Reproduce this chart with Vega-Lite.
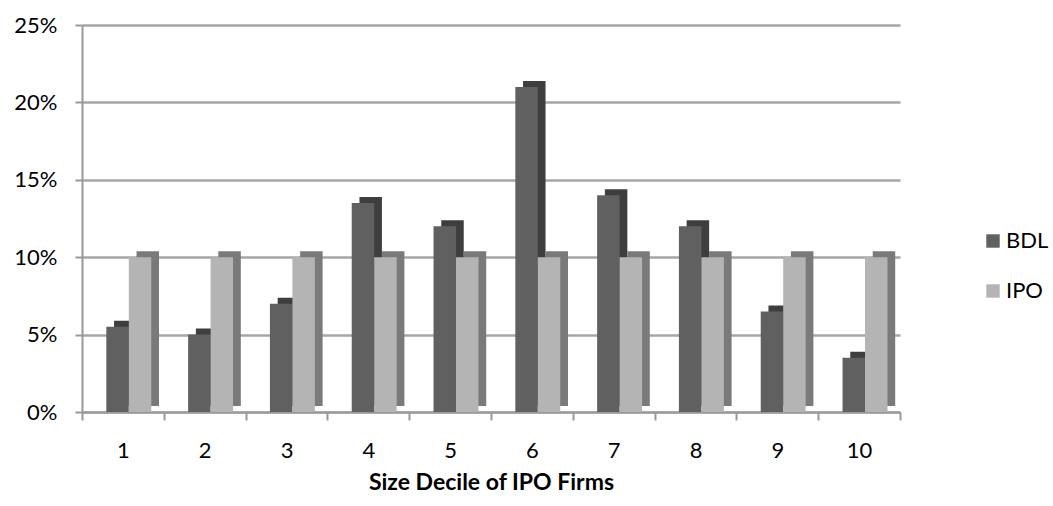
{
  "$schema": "https://vega.github.io/schema/vega-lite/v6.json",
  "width": 818,
  "height": 387,
  "autosize": {"type": "none"},
  "padding": {"left": 82, "top": 25, "right": 153, "bottom": 94},
  "background": "white",
  "config": {
    "view": {"stroke": null},
    "font": "Lato",
    "axis": {"labelFont": "Lato", "titleFont": "Lato", "labelColor": "#000", "titleColor": "#000"},
    "legend": {
      "orient": "none",
      "legendX": 900,
      "legendY": 205,
      "rowPadding": 28,
      "symbolType": "square",
      "symbolSize": 180,
      "symbolStrokeWidth": 0,
      "labelFontSize": 22,
      "labelFont": "Lato",
      "labelColor": "#000",
      "labelOffset": 2
    }
  },
  "data": {
    "values": [
      {"decile": "1", "series": "BDL", "value": 0.055},
      {"decile": "1", "series": "IPO", "value": 0.10},
      {"decile": "2", "series": "BDL", "value": 0.050},
      {"decile": "2", "series": "IPO", "value": 0.10},
      {"decile": "3", "series": "BDL", "value": 0.070},
      {"decile": "3", "series": "IPO", "value": 0.10},
      {"decile": "4", "series": "BDL", "value": 0.135},
      {"decile": "4", "series": "IPO", "value": 0.10},
      {"decile": "5", "series": "BDL", "value": 0.120},
      {"decile": "5", "series": "IPO", "value": 0.10},
      {"decile": "6", "series": "BDL", "value": 0.210},
      {"decile": "6", "series": "IPO", "value": 0.10},
      {"decile": "7", "series": "BDL", "value": 0.140},
      {"decile": "7", "series": "IPO", "value": 0.10},
      {"decile": "8", "series": "BDL", "value": 0.120},
      {"decile": "8", "series": "IPO", "value": 0.10},
      {"decile": "9", "series": "BDL", "value": 0.065},
      {"decile": "9", "series": "IPO", "value": 0.10},
      {"decile": "10", "series": "BDL", "value": 0.035},
      {"decile": "10", "series": "IPO", "value": 0.10}
    ]
  },
  "encoding": {
    "x": {
      "field": "decile",
      "type": "ordinal",
      "sort": null,
      "scale": {"paddingInner": 0, "paddingOuter": 0},
      "axis": {
        "title": "Size Decile of IPO Firms",
        "titleFontSize": 23,
        "titleFontWeight": "bold",
        "titlePadding": 10,
        "labelFontSize": 22,
        "labelAngle": 0,
        "labelPadding": 20,
        "tickBand": "extent",
        "tickSize": 8,
        "tickColor": "#999999",
        "tickWidth": 2,
        "domainColor": "#999999",
        "domainWidth": 2,
        "grid": false
      }
    },
    "y": {
      "field": "value",
      "type": "quantitative",
      "scale": {"domain": [0, 0.25], "nice": false},
      "axis": {
        "title": null,
        "format": ".0%",
        "values": [0, 0.05, 0.1, 0.15, 0.2, 0.25],
        "labelFontSize": 22,
        "labelPadding": 18,
        "tickSize": 7,
        "tickColor": "#999999",
        "tickWidth": 2,
        "domainColor": "#999999",
        "domainWidth": 2,
        "gridColor": "#a6a6a6",
        "gridWidth": 2.5
      }
    }
  },
  "layer": [
    {
      "mark": {"type": "bar", "yOffset": -6},
      "encoding": {
        "xOffset": {
          "field": "series",
          "type": "nominal",
          "scale": {"paddingInner": 0, "paddingOuter": 0.82, "align": 0.87}
        },
        "color": {
          "field": "series",
          "type": "nominal",
          "scale": {"domain": ["BDL", "IPO"], "range": ["#3e3e3e", "#7a7a7a"]},
          "legend": null
        }
      }
    },
    {
      "mark": {"type": "bar"},
      "encoding": {
        "xOffset": {
          "field": "series",
          "type": "nominal",
          "scale": {"paddingInner": 0, "paddingOuter": 0.82, "align": 0.66}
        },
        "color": {
          "field": "series",
          "type": "nominal",
          "scale": {"domain": ["BDL", "IPO"], "range": ["#606060", "#b4b4b4"]},
          "legend": {"title": null}
        }
      }
    }
  ],
  "resolve": {"scale": {"color": "independent", "xOffset": "independent"}}
}
